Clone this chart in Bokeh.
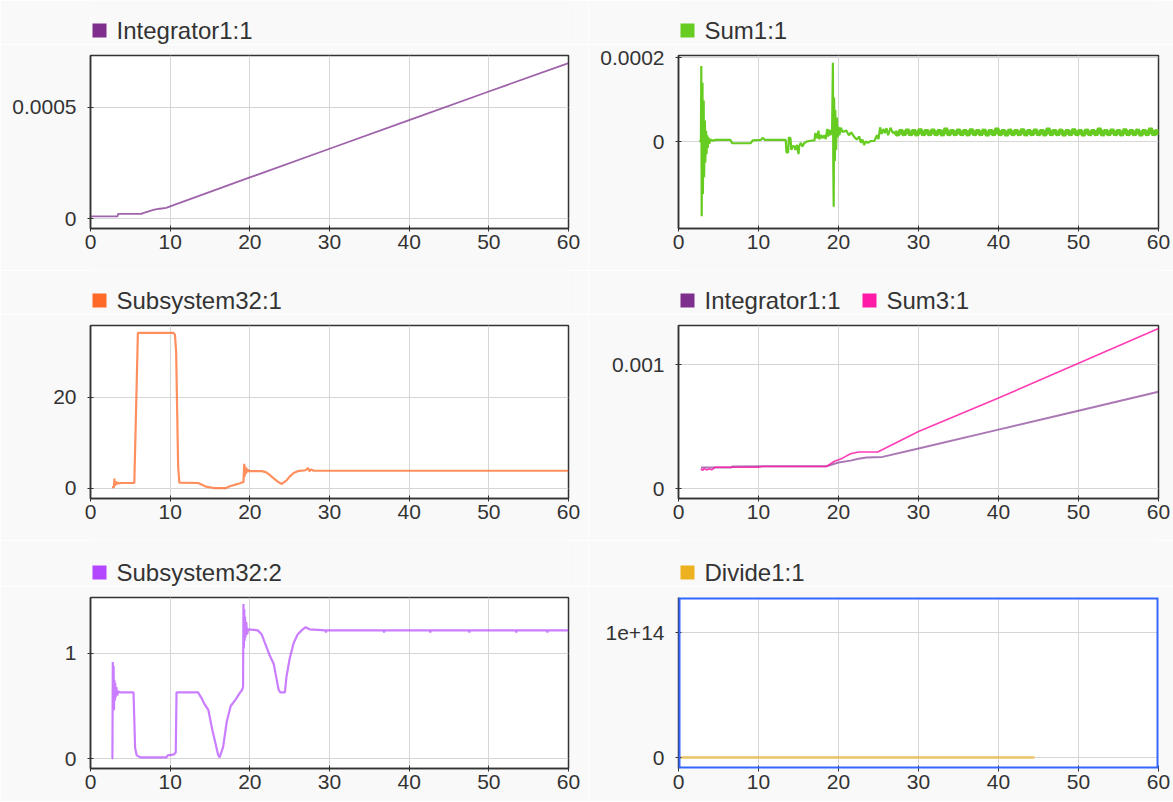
from bokeh.plotting import figure
from bokeh.models import Range1d, FixedTicker, BoxAnnotation
from bokeh.core.properties import value
from bokeh.layouts import column, row
from bokeh.embed import file_html
from bokeh.resources import INLINE

BG = "#f9f9f9"
FONT = "Liberation Sans"
TXT = "#333333"

x_ticks = [0, 10, 20, 30, 40, 50, 60]

# ---- Panel 1: Integrator1:1
int1_t = [0, 3.4, 3.45, 6.4, 6.5, 7.3, 8.0, 8.7, 9.5, 10, 20, 30, 40, 50, 60]
int1_v = [1.0e-5, 1.0e-5, 2.1e-5, 2.1e-5, 2.3e-5, 3.2e-5, 4.0e-5, 4.4e-5, 4.8e-5,
          5.5e-5, 1.85e-4, 3.14e-4, 4.43e-4, 5.72e-4, 7.0e-4]

# ---- Panel 2: Sum1:1 (values in units of 1e-5)
sum1_scale = 1e-5
sum1_t = [2.6, 2.8, 2.85, 2.9, 3.0, 3.05, 3.15, 3.2, 3.3, 3.35, 3.45, 3.5, 3.6, 3.65,
          3.75, 3.85, 4.0, 4.3, 4.6, 6.5, 6.7, 9.0, 9.3, 10.3, 10.5, 10.8, 13.4, 13.5,
          13.7, 13.8, 14.0, 14.1, 14.3, 14.5, 14.6, 14.8, 15.0, 15.1, 15.3, 15.5, 15.7,
          16.0, 16.5, 17.0, 17.1, 17.3, 17.5, 17.6, 17.8, 18.0, 18.2, 18.4, 18.6, 18.7,
          18.9, 19.0, 19.2, 19.3, 19.35, 19.4, 19.45, 19.55, 19.6, 19.7, 19.8, 19.9,
          20.0, 20.1, 20.3, 20.5, 21.0, 21.3, 21.6, 22.0, 22.3, 22.6, 22.8, 23.0, 23.2,
          23.4, 23.7, 24.0, 24.5, 24.8, 25.0, 25.2, 25.4, 25.6, 25.8, 26.0, 26.2, 26.5,
          26.8, 27.0]
sum1_v = [0, 0.2, 18.0, -17.8, 14.0, -12.5, 9.8, -8.5, 5.0, -5.0, 2.6, -3.0, 1.5, -1.5,
          1.0, -0.5, 0.5, 0.2, 0.4, 0.4, -0.4, -0.4, 0.3, 0.4, 0.9, 0.4, 0.4, -2.6,
          -2.6, 1.0, 0.8, -2.0, -1.0, -1.2, -2.0, -0.8, -3.0, -1.0, -0.3, -1.2, -0.4,
          0.0, 0.2, 0.3, 2.0, 0.8, 2.6, 0.5, 1.6, 0.8, 1.5, 0.6, 3.0, 1.2,
          2.8, 1.5, 3.0, 18.8, -6.0, -15.5, 10.5, -4.6, 7.5, -2.0, 5.7, 1.0,
          3.5, 1.5, 3.3, 2.3, 2.6, 1.5, 2.2, 1.0, 0.5, 1.2, -0.3, 0.5, -0.8,
          0.0, -0.3, 0.1, 0.2, 1.5, 0.6, 3.4, 1.8, 3.0, 2.0, 3.2, 1.5, 3.3,
          2.0, 2.4]
# steady-state chatter of Sum1:1 after t = 27
sum1b_t = [27.0, 27.4, 27.8, 28.2, 28.6, 29.0, 29.4, 29.8, 30.2, 30.6, 31.0, 31.4, 31.8,
           32.2, 32.6, 33.0, 33.4, 33.8, 34.2, 34.6, 35.0, 35.4, 35.8, 36.2, 36.6, 37.0,
           37.4, 37.8, 38.2, 38.6, 39.0, 39.4, 39.8, 40.2, 40.6, 41.0, 41.4, 41.8, 42.2,
           42.6, 43.0, 43.4, 43.8, 44.2, 44.6, 45.0, 45.4, 45.8, 46.2, 46.6, 47.0, 47.4,
           47.8, 48.2, 48.6, 49.0, 49.4, 49.8, 50.2, 50.6, 51.0, 51.4, 51.8, 52.2, 52.6,
           53.0, 53.4, 53.8, 54.2, 54.6, 55.0, 55.4, 55.8, 56.2, 56.6, 57.0, 57.4, 57.8,
           58.2, 58.6, 59.0, 59.4, 59.8, 60.0]
sum1b_v = [2.4, 1.6, 2.7, 1.6, 2.8, 1.6, 2.7, 1.5, 2.9, 1.6, 2.7, 1.6, 2.8,
           1.6, 2.7, 1.5, 3.1, 1.6, 2.7, 1.6, 2.8, 1.6, 2.7, 1.5, 2.9, 1.6,
           2.7, 1.6, 2.8, 1.5, 2.7, 1.6, 3.1, 1.6, 2.7, 1.5, 2.8, 1.6, 2.7,
           1.6, 2.9, 1.5, 2.7, 1.6, 2.8, 1.6, 2.7, 1.5, 3.1, 1.6, 2.7, 1.6,
           2.8, 1.5, 2.7, 1.6, 2.9, 1.6, 2.7, 1.5, 2.8, 1.6, 2.7, 1.6, 3.1,
           1.5, 2.7, 1.6, 2.8, 1.6, 2.7, 1.5, 2.9, 1.6, 2.7, 1.6, 2.8, 1.5,
           2.7, 1.6, 3.1, 1.6, 2.7, 1.6]

# ---- Panel 3: Subsystem32:1
sub1_t = [2.7, 2.95, 3.0, 3.05, 3.15, 3.25, 3.4, 3.6, 3.8, 5.5, 5.95, 10.4, 10.6, 10.75,
          11.0, 11.15, 13.5, 14.0, 14.5, 15.5, 17.0, 17.5, 18.5, 19.0, 19.2, 19.3, 19.35,
          19.45, 19.5, 19.6, 19.7, 19.8, 20.0, 21.5, 22.0, 22.5, 23.0, 23.5, 24.0, 24.5,
          25.0, 25.5, 26.0, 27.0, 27.3, 27.5, 27.7, 28.0, 60.0]
sub1_v = [0.3, 0.3, 2.2, 0.6, 1.6, 0.9, 1.3, 1.1, 1.2, 1.2, 34.2, 34.2, 33.8, 30.0,
          5.0, 1.3, 1.2, 0.8, 0.4, 0.1, 0.1, 0.5, 1.0, 1.3, 1.4, 5.4, 2.6,
          4.8, 3.2, 4.4, 3.6, 4.1, 3.8, 3.8, 3.6, 3.0, 2.2, 1.5, 1.0, 1.6,
          2.6, 3.4, 3.8, 4.0, 4.5, 3.8, 4.2, 3.9, 3.9]

# ---- Panel 4: Integrator1:1 and Sum3:1 (values in units of 1e-4)
p4_scale = 1e-4
int1b_t = [2.8, 6.6, 6.7, 18.5, 20.0, 21.5, 22.5, 23.5, 25.5, 30.0, 40.0, 50.0, 60.0]
int1b_v = [1.70, 1.70, 1.78, 1.80, 2.10, 2.25, 2.40, 2.50, 2.55, 3.22, 4.75, 6.28, 7.80]
sum3_t = [2.8, 3.0, 3.2, 3.5, 3.8, 4.2, 4.6, 10.0, 10.5, 18.5, 19.5, 20.5, 21.5, 22.5,
          24.9, 30.0, 40.0, 50.0, 60.0]
sum3_v = [1.60, 1.45, 1.62, 1.50, 1.58, 1.52, 1.72, 1.72, 1.78, 1.78, 2.20, 2.45, 2.80,
          2.95, 2.95, 4.60, 7.30, 10.10, 12.90]

# ---- Panel 5: Subsystem32:2
sub2_t = [2.7, 2.75, 2.8, 2.85, 2.9, 2.95, 3.0, 3.05, 3.1, 3.15, 3.25, 3.35, 3.5, 3.7,
          5.4, 5.6, 5.8, 6.3, 9.5, 9.7, 10.5, 10.7, 10.8, 13.5, 13.9, 14.3, 14.8, 15.3,
          15.7, 16.0, 16.2, 16.65, 17.1, 17.6, 18.3, 18.7, 19.0, 19.15, 19.2, 19.25,
          19.3, 19.35, 19.4, 19.45, 19.55, 19.65, 19.8, 21.0, 21.5, 22.0, 22.5, 23.0,
          23.3, 23.6, 23.8, 24.4, 24.6, 25.0, 25.5, 26.0, 26.5, 27.0, 27.5, 29.5,
          29.55, 29.6, 36.8, 36.85, 36.9, 42.6, 42.65, 42.7, 47.5, 47.55, 47.6, 53.4,
          53.45, 53.5, 57.3, 57.35, 57.4, 60.0]
sub2_v = [0.0, 0.0, 0.92, 0.5, 0.88, 0.46, 0.75, 0.55, 0.72, 0.58, 0.68, 0.6, 0.64, 0.63,
          0.63, 0.1, 0.03, 0.01, 0.01, 0.03, 0.04, 0.06, 0.63, 0.63, 0.58, 0.52, 0.46, 0.27,
          0.14, 0.04, 0.01, 0.11, 0.35, 0.5, 0.57, 0.62, 0.65, 0.68, 1.47, 1.05,
          1.42, 1.12, 1.35, 1.15, 1.3, 1.18, 1.23, 1.22, 1.18, 1.08, 0.98, 0.9,
          0.78, 0.66, 0.63, 0.63, 0.78, 0.95, 1.1, 1.18, 1.22, 1.25, 1.23, 1.22,
          1.20, 1.22, 1.22, 1.20, 1.22, 1.22, 1.20, 1.22, 1.22, 1.20, 1.22, 1.22,
          1.20, 1.22, 1.22, 1.20, 1.22, 1.22]

# ---- Panel 6: Divide1:1
div_t = [0, 10, 20, 30, 40, 44.5]
div_v = [0, 0, 0, 0, 0, 0]

# ---- layout constants (pixels)
LEFT = 90
W1, W2 = 588, 585
RB1, RB2 = 20, 15
FW1, FW2 = W1 - LEFT - RB1, W2 - LEFT - RB2


def make_fig(w, h, yr, yticks, ylabels, mb_bottom, mb_right):
    p = figure(width=w, height=h, x_range=Range1d(0, 60), y_range=Range1d(*yr),
               output_backend="svg", toolbar_location=None, title=None,
               min_border_left=LEFT, min_border_right=mb_right,
               min_border_top=11, min_border_bottom=mb_bottom)
    p.background_fill_color = "white"
    p.border_fill_color = BG
    p.outline_line_color = "#333333"
    p.outline_line_width = 1.5
    p.xaxis.ticker = FixedTicker(ticks=x_ticks)
    p.yaxis.ticker = FixedTicker(ticks=yticks)
    p.yaxis.major_label_overrides = {t: l for t, l in zip(yticks, ylabels)}
    for ax in (p.xaxis[0], p.yaxis[0]):
        ax.major_label_text_font = FONT
        ax.major_label_text_font_size = "21px"
        ax.major_label_text_color = TXT
        ax.axis_line_color = "#333333"
        ax.axis_line_width = 1.5
        ax.major_tick_in = 3
        ax.major_tick_out = 3
        ax.major_tick_line_color = "#333333"
        ax.minor_tick_line_color = None
    p.yaxis.major_label_standoff = 11
    p.xaxis.major_label_standoff = 3
    p.grid.grid_line_color = "#d6d6d6"
    p.grid.grid_line_width = 1
    return p


def make_header(w, fw, rb, hh, names, colors, offsets):
    """Legend strip above a panel: coloured square + series name.
    Its frame is aligned with the panel's frame by the column layout."""
    h = figure(width=w, height=hh, x_range=Range1d(0, fw), y_range=Range1d(0, hh),
               output_backend="svg", toolbar_location=None, title=None,
               x_axis_type=None, y_axis_type=None,
               min_border_left=LEFT, min_border_right=rb,
               min_border_top=0, min_border_bottom=0)
    h.grid.visible = False
    h.outline_line_color = None
    h.background_fill_color = BG
    h.border_fill_color = BG
    yc = 14
    h.quad(left=offsets, right=[o + 14 for o in offsets], bottom=[yc - 7] * len(offsets),
           top=[yc + 7] * len(offsets), fill_color=colors, line_color=None)
    h.text(x=[o + 24 for o in offsets], y=[yc] * len(offsets), text=names,
           text_font=value(FONT), text_font_size="24px", text_color=TXT,
           text_baseline="middle", text_align="left")
    return h


H_TOP, H_BOT = 44, 46

h1 = make_header(W1, FW1, RB1, H_TOP, ["Integrator1:1"], ["#7E2F8E"], [2])
p1 = make_fig(W1, 226, (-0.000045, 0.000734), [0, 0.0005], ["0", "0.0005"], 42, RB1)
p1.line(int1_t, int1_v, line_color="#7E2F8E", line_width=1.8, line_alpha=0.75)

h2 = make_header(W2, FW2, RB2, H_TOP, ["Sum1:1"], ["#66CC22"], [2])
p2 = make_fig(W2, 226, (-0.000207, 0.000205), [0, 0.0002], ["0", "0.0002"], 42, RB2)
p2.line(sum1_t, [v * sum1_scale for v in sum1_v], line_color="#66CC22", line_width=2.2)
p2.line(sum1b_t, [v * sum1_scale for v in sum1b_v], line_color="#66CC22", line_width=4.5)

h3 = make_header(W1, FW1, RB1, H_TOP, ["Subsystem32:1"], ["#FF6A28"], [2])
p3 = make_fig(W1, 226, (-2.2, 35.8), [0, 20], ["0", "20"], 42, RB1)
p3.line(sub1_t, sub1_v, line_color="#FF6A28", line_width=2.2, line_alpha=0.75)

h4 = make_header(W2, FW2, RB2, H_TOP, ["Integrator1:1", "Sum3:1"],
                 ["#7E2F8E", "#FF1AA8"], [2, 184])
p4 = make_fig(W2, 226, (-0.0000806, 0.001315), [0, 0.001], ["0", "0.001"], 42, RB2)
p4.line(int1b_t, [v * p4_scale for v in int1b_v], line_color="#7E2F8E", line_width=2, line_alpha=0.65)
p4.line(sum3_t, [v * p4_scale for v in sum3_v], line_color="#FF1AA8", line_width=1.6, line_alpha=0.85)

h5 = make_header(W1, FW1, RB1, H_BOT, ["Subsystem32:2"], ["#B347FF"], [2])
p5 = make_fig(W1, 215, (-0.095, 1.533), [0, 1], ["0", "1"], 33, RB1)
p5.line(sub2_t, sub2_v, line_color="#B347FF", line_width=2.2, line_alpha=0.7)

h6 = make_header(W2, FW2, RB2, H_BOT, ["Divide1:1"], ["#EDB120"], [2])
div_yr = (-0.088e14, 1.28e14)
p6 = make_fig(W2, 215, div_yr, [0, 1e14], ["0", "1e+14"], 33, RB2)
p6.outline_line_color = None
p6.xaxis.axis_line_color = None
p6.line(div_t, div_v, line_color="#EDB120", line_width=3, line_alpha=0.55)
# selection highlight around the active panel
p6.add_layout(BoxAnnotation(left=0, right=60, bottom=div_yr[0], top=div_yr[1],
                            fill_alpha=0, line_color="#3366FF", line_alpha=1.0,
                            line_width=4))

layout = column(row(column(h1, p1), column(h2, p2)),
                row(column(h3, p3), column(h4, p4)),
                row(column(h5, p5), column(h6, p6)))

html = file_html(layout, INLINE)
html = html.replace("<body>", '<body style="background-color:#f9f9f9;">', 1)
open("out.html", "w").write(html)
